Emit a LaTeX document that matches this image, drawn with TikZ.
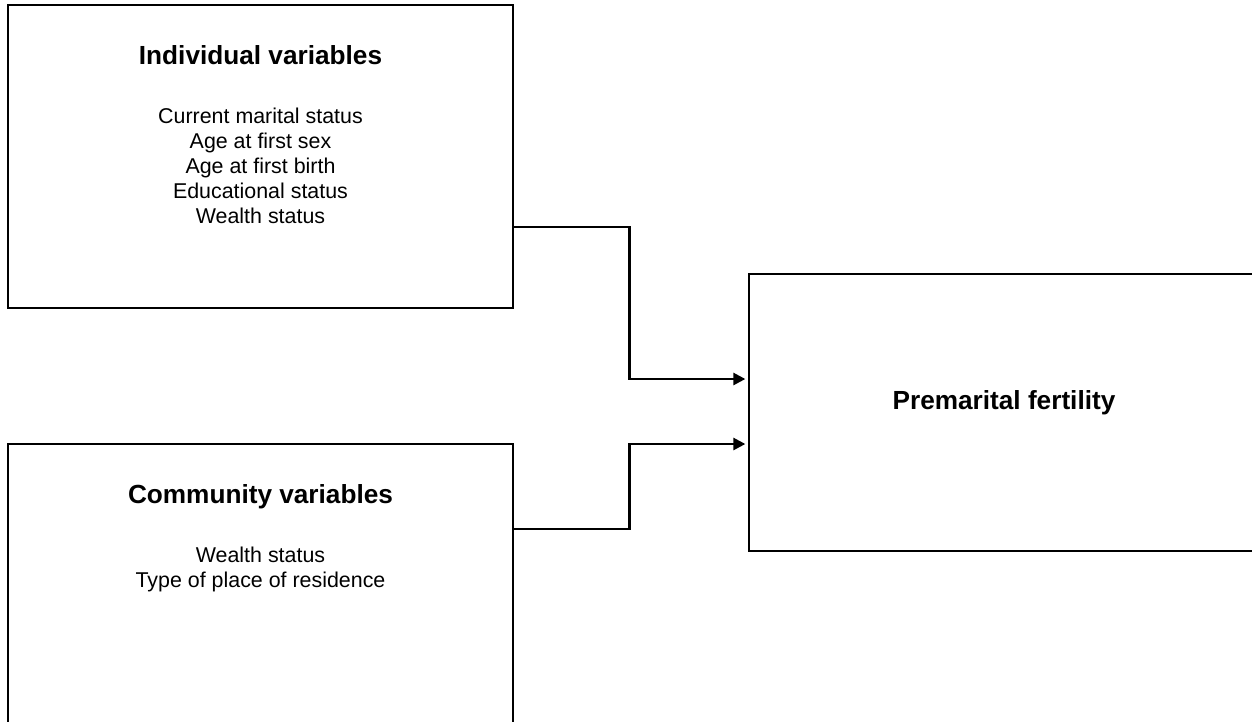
\documentclass[tikz,border=0pt]{standalone}
\usepackage{fontspec}
\setmainfont{Liberation Sans}
\usetikzlibrary{arrows.meta,positioning}

\begin{document}
\begin{tikzpicture}[x=1pt,y=-1pt,
  box/.style={draw, rectangle, line width=1.3pt, inner sep=0pt},
  title/.style={inner sep=0pt, font=\bfseries\fontsize{26.2}{31}\selectfont},
  items/.style={inner sep=0pt, align=center, font=\fontsize{21.4}{25}\selectfont},
  link/.style={line width=2.6pt, -{Triangle[length=12pt,width=12pt]}, shorten >=3pt}]
\useasboundingbox (0,0) rectangle (1252,721);
\clip (0,0) rectangle (1252,721);
\node[box, minimum width=505pt, minimum height=303pt] (indiv) at (260.5,156.5) {};
\node[box, minimum width=505pt, minimum height=336pt] (comm) at (260.5,612) {};
\node[box, minimum width=510pt, minimum height=277pt] (prem) at (1004,412.5) {};
\node[title, below=41pt of indiv.north] (ititle) {Individual variables};
\node[items, below=103pt of indiv.north] (ilist) {Current marital status\\Age at first sex\\Age at first birth\\Educational status\\Wealth status};
\node[title, below=41pt of comm.north] (ctitle) {Community variables};
\node[items, below=103pt of comm.north] (clist) {Wealth status\\Type of place of residence};
\node[title, below=117pt of prem.north] (ptitle) {Premarital fertility};
\draw[link] ([yshift=-70.5pt]indiv.east) -- ++(116,0) |- ([yshift=33.5pt]prem.west);
\draw[link] ([yshift=83pt]comm.east) -- ++(116,0) |- ([yshift=-31.5pt]prem.west);
\end{tikzpicture}
\end{document}
